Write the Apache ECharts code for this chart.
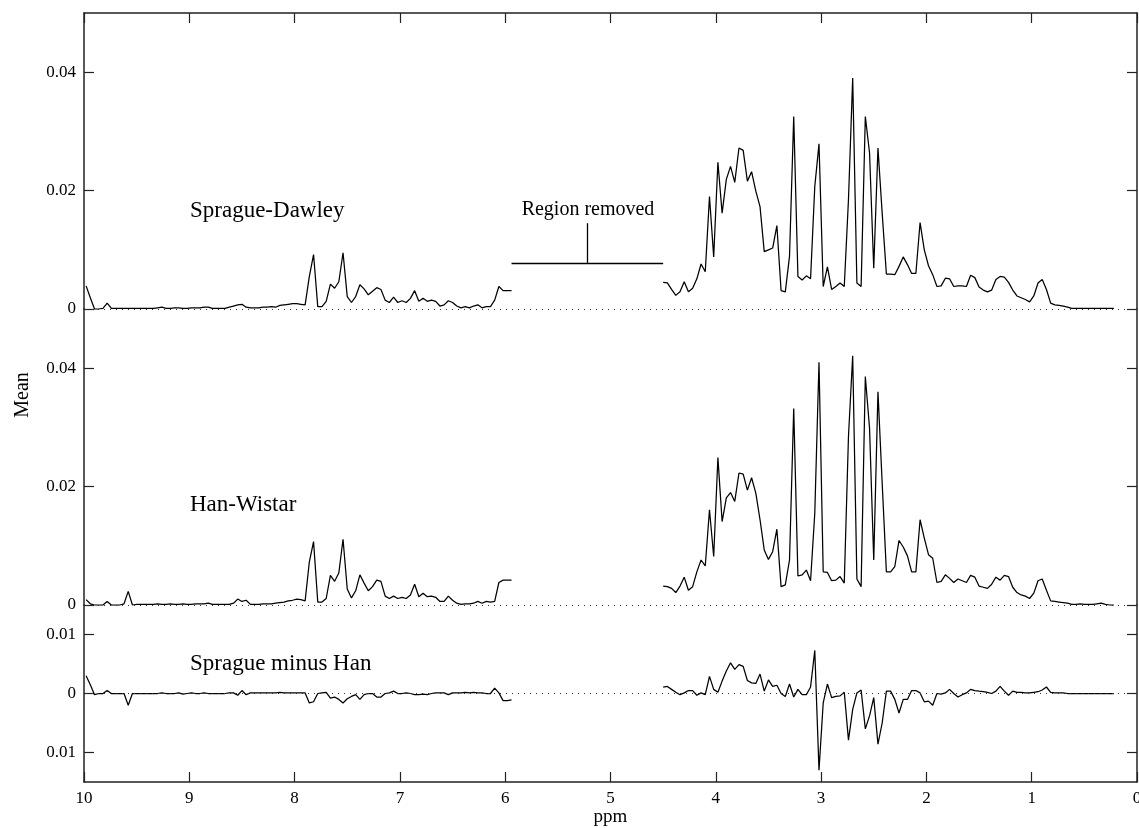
<!DOCTYPE html>
<html>
<head>
<meta charset="utf-8">
<title>Mean NMR spectra</title>
<script src="https://cdn.jsdelivr.net/npm/echarts@6/dist/echarts.min.js"></script>
<style>
  html, body { margin: 0; padding: 0; background: #fff; }
  #chart { width: 1139px; height: 828px; }
</style>
</head>
<body>
<div id="chart"></div>
<script>
// Bucket centres (ppm), 0.04 ppm buckets; the water region between the two segments is excluded
const ppmLeft = [9.98,9.94,9.90,9.86,9.82,9.78,9.74,9.70,9.66,9.62,9.58,9.54,9.50,9.46,9.42,9.38,9.34,9.30,9.26,9.22,
  9.18,9.14,9.10,9.06,9.02,8.98,8.94,8.90,8.86,8.82,8.78,8.74,8.70,8.66,8.62,8.58,8.54,8.50,8.46,8.42,
  8.38,8.34,8.30,8.26,8.22,8.18,8.14,8.10,8.06,8.02,7.98,7.94,7.90,7.86,7.82,7.78,7.74,7.70,7.66,7.62,
  7.58,7.54,7.50,7.46,7.42,7.38,7.34,7.30,7.26,7.22,7.18,7.14,7.10,7.06,7.02,6.98,6.94,6.90,6.86,6.82,
  6.78,6.74,6.70,6.66,6.62,6.58,6.54,6.50,6.46,6.42,6.38,6.34,6.30,6.26,6.22,6.18,6.14,6.10,6.06,6.02,
  5.98,5.94];
const ppmRight = [4.50,4.46,4.42,4.38,4.34,4.30,4.26,4.22,4.18,4.14,4.10,4.06,4.02,3.98,3.94,3.90,3.86,3.82,3.78,3.74,
  3.70,3.66,3.62,3.58,3.54,3.50,3.46,3.42,3.38,3.34,3.30,3.26,3.22,3.18,3.14,3.10,3.06,3.02,2.98,2.94,
  2.90,2.86,2.82,2.78,2.74,2.70,2.66,2.62,2.58,2.54,2.50,2.46,2.42,2.38,2.34,2.30,2.26,2.22,2.18,2.14,
  2.10,2.06,2.02,1.98,1.94,1.90,1.86,1.82,1.78,1.74,1.70,1.66,1.62,1.58,1.54,1.50,1.46,1.42,1.38,1.34,
  1.30,1.26,1.22,1.18,1.14,1.10,1.06,1.02,0.98,0.94,0.90,0.86,0.82,0.78,0.74,0.70,0.66,0.62,0.58,0.54,
  0.50,0.46,0.42,0.38,0.34,0.30,0.26,0.22];

// Sprague-Dawley mean spectrum
const sdLeft = [0.0039,0.0019,0.0000,0.0000,0.0001,0.0010,0.0001,0.0001,0.0001,0.0001,
  0.0001,0.0001,0.0001,0.0001,0.0001,0.0001,0.0001,0.0002,0.0003,0.0001,
  0.0001,0.0002,0.0002,0.0001,0.0001,0.0002,0.0002,0.0002,0.0003,0.0003,
  0.0001,0.0001,0.0001,0.0001,0.0003,0.0005,0.0007,0.0008,0.0003,0.0002,
  0.0002,0.0002,0.0003,0.0003,0.0004,0.0003,0.0006,0.0007,0.0008,0.0009,
  0.0009,0.0008,0.0007,0.0055,0.0092,0.0004,0.0004,0.0013,0.0042,0.0035,
  0.0046,0.0095,0.0021,0.0011,0.0021,0.0041,0.0034,0.0024,0.0030,0.0036,
  0.0033,0.0015,0.0011,0.0020,0.0011,0.0014,0.0011,0.0018,0.0031,0.0013,
  0.0018,0.0013,0.0015,0.0013,0.0005,0.0007,0.0014,0.0011,0.0005,0.0002,
  0.0004,0.0002,0.0005,0.0007,0.0002,0.0004,0.0004,0.0015,0.0038,0.0031,
  0.0031,0.0031];
const sdRight = [0.0045,0.0044,0.0033,0.0023,0.0029,0.0046,0.0029,0.0035,0.0051,0.0076,
  0.0063,0.0190,0.0088,0.0248,0.0162,0.0219,0.0241,0.0214,0.0272,0.0268,
  0.0216,0.0232,0.0199,0.0173,0.0097,0.0100,0.0103,0.0141,0.0031,0.0029,
  0.0089,0.0325,0.0055,0.0049,0.0056,0.0051,0.0207,0.0279,0.0038,0.0071,
  0.0033,0.0038,0.0044,0.0038,0.0185,0.0390,0.0044,0.0038,0.0325,0.0264,
  0.0069,0.0272,0.0162,0.0059,0.0059,0.0058,0.0072,0.0088,0.0075,0.0060,
  0.0060,0.0146,0.0100,0.0073,0.0058,0.0038,0.0039,0.0052,0.0051,0.0038,
  0.0039,0.0039,0.0038,0.0057,0.0053,0.0037,0.0032,0.0029,0.0032,0.0050,
  0.0055,0.0054,0.0045,0.0032,0.0022,0.0019,0.0016,0.0012,0.0022,0.0044,
  0.0050,0.0033,0.0010,0.0007,0.0006,0.0005,0.0003,0.0001,0.0001,0.0001,
  0.0001,0.0001,0.0001,0.0001,0.0001,0.0001,0.0001,0.0001];

// Han-Wistar mean spectrum
const hwLeft = [0.0009,0.0002,0.0000,0.0000,0.0000,0.0006,0.0000,0.0000,0.0000,0.0002,
  0.0023,0.0000,0.0001,0.0001,0.0001,0.0001,0.0001,0.0002,0.0001,0.0001,
  0.0002,0.0001,0.0001,0.0002,0.0001,0.0001,0.0002,0.0002,0.0002,0.0003,
  0.0001,0.0001,0.0001,0.0001,0.0001,0.0003,0.0010,0.0006,0.0008,0.0001,
  0.0001,0.0001,0.0002,0.0002,0.0002,0.0003,0.0004,0.0005,0.0007,0.0008,
  0.0010,0.0009,0.0007,0.0073,0.0107,0.0005,0.0005,0.0011,0.0050,0.0040,
  0.0054,0.0111,0.0027,0.0012,0.0024,0.0051,0.0037,0.0024,0.0031,0.0042,
  0.0040,0.0015,0.0011,0.0015,0.0011,0.0013,0.0011,0.0017,0.0035,0.0014,
  0.0020,0.0014,0.0015,0.0013,0.0006,0.0006,0.0015,0.0008,0.0003,0.0001,
  0.0002,0.0002,0.0003,0.0006,0.0003,0.0006,0.0005,0.0006,0.0038,0.0042,
  0.0042,0.0042];
const hwRight = [0.0032,0.0031,0.0028,0.0021,0.0032,0.0047,0.0025,0.0031,0.0056,0.0076,
  0.0066,0.0161,0.0082,0.0249,0.0141,0.0181,0.0190,0.0175,0.0223,0.0221,
  0.0194,0.0215,0.0189,0.0144,0.0093,0.0077,0.0090,0.0128,0.0031,0.0034,
  0.0076,0.0332,0.0049,0.0051,0.0059,0.0041,0.0155,0.0410,0.0056,0.0055,
  0.0041,0.0042,0.0048,0.0037,0.0285,0.0421,0.0044,0.0031,0.0386,0.0299,
  0.0076,0.0360,0.0206,0.0056,0.0056,0.0065,0.0109,0.0098,0.0083,0.0056,
  0.0056,0.0144,0.0113,0.0085,0.0079,0.0038,0.0040,0.0051,0.0045,0.0038,
  0.0044,0.0041,0.0038,0.0050,0.0047,0.0032,0.0030,0.0028,0.0035,0.0047,
  0.0042,0.0050,0.0048,0.0030,0.0021,0.0017,0.0015,0.0011,0.0020,0.0041,
  0.0044,0.0025,0.0007,0.0006,0.0005,0.0004,0.0003,0.0001,0.0001,0.0002,
  0.0001,0.0001,0.0001,0.0002,0.0003,0.0001,0.0000,0.0000];

// Difference spectrum (Sprague minus Han)
const diffLeft = [0.0030,0.0015,-0.0002,0.0000,0.0000,0.0005,0.0000,0.0000,0.0000,0.0000,
  -0.0020,0.0000,0.0000,0.0000,0.0000,0.0000,0.0000,0.0000,0.0001,0.0000,
  0.0000,0.0000,0.0001,-0.0001,0.0000,0.0001,0.0000,0.0000,0.0001,0.0000,
  0.0000,0.0000,0.0000,0.0000,0.0001,0.0001,-0.0003,0.0005,-0.0002,0.0001,
  0.0001,0.0001,0.0001,0.0001,0.0001,0.0001,0.0002,0.0001,0.0001,0.0001,
  0.0001,0.0001,0.0001,-0.0016,-0.0014,0.0000,0.0001,0.0002,-0.0008,-0.0006,
  -0.0010,-0.0016,-0.0009,-0.0005,-0.0002,-0.0010,-0.0002,0.0000,0.0000,-0.0006,
  -0.0006,0.0000,0.0001,0.0004,0.0000,0.0000,0.0001,0.0000,-0.0002,-0.0002,
  -0.0001,-0.0002,0.0000,0.0001,0.0001,0.0001,-0.0002,0.0001,0.0001,0.0001,
  0.0002,0.0001,0.0002,0.0001,0.0001,0.0000,0.0000,0.0009,0.0001,-0.0012,
  -0.0012,-0.0011];
const diffRight = [0.0011,0.0012,0.0007,0.0002,-0.0002,0.0001,0.0005,0.0005,-0.0003,0.0001,
  -0.0002,0.0029,0.0007,0.0002,0.0021,0.0038,0.0052,0.0041,0.0049,0.0046,
  0.0022,0.0018,0.0017,0.0033,0.0004,0.0023,0.0012,0.0014,0.0000,-0.0005,
  0.0016,-0.0006,0.0007,-0.0002,-0.0002,0.0011,0.0073,-0.0130,-0.0016,0.0016,
  -0.0007,-0.0005,-0.0004,0.0002,-0.0079,-0.0027,0.0001,0.0006,-0.0060,-0.0038,
  -0.0007,-0.0086,-0.0050,0.0004,0.0004,-0.0010,-0.0033,-0.0010,-0.0010,0.0005,
  0.0005,0.0001,-0.0014,-0.0013,-0.0020,0.0000,-0.0001,0.0001,0.0007,0.0000,
  -0.0006,-0.0002,0.0001,0.0007,0.0005,0.0004,0.0003,0.0002,0.0000,0.0004,
  0.0012,0.0004,-0.0003,0.0004,0.0002,0.0002,0.0001,0.0001,0.0002,0.0003,
  0.0006,0.0011,0.0002,0.0001,0.0001,0.0001,0.0000,0.0000,0.0000,0.0000,
  0.0000,0.0000,0.0000,0.0000,0.0000,0.0000,0.0000,0.0000];

// Axis ticks
const ppmTicks = [10, 9, 8, 7, 6, 5, 4, 3, 2, 1, 0];
const meanTicks = [0, 0.02, 0.04];
const diffTicks = [-0.01, 0, 0.01];

// "Region removed" bracket heights (Mean units, top panel)
const bracketLevel = 0.0078;
const bracketTop = 0.0145;

const FONT = '"Liberation Serif", "Times New Roman", serif';
const AXIS_COLOR = '#222';

function pairs(xs, ys) { return xs.map((x, i) => [x, ys[i]]); }

function xAxisFor(gridIndex, position, showLabels) {
  return {
    type: 'value', gridIndex, position, min: 0, max: 10, interval: 1, inverse: true,
    axisLine: { show: true, onZero: false, lineStyle: { color: AXIS_COLOR, width: 1.5 } },
    axisTick: { show: true, inside: true, length: 10, customValues: ppmTicks, lineStyle: { color: AXIS_COLOR, width: 1.2 } },
    axisLabel: {
      show: showLabels, customValues: ppmTicks, margin: 8,
      fontFamily: FONT, fontSize: 17, color: '#000',
      formatter: v => String(v)
    },
    splitLine: { show: false },
    name: showLabels ? 'ppm' : '',
    nameLocation: 'middle', nameGap: 20,
    nameTextStyle: { fontFamily: FONT, fontSize: 19, color: '#000' }
  };
}

function yAxisFor(gridIndex, min, max, ticks, side, fmt) {
  return {
    type: 'value', gridIndex, min, max, position: side,
    axisLine: { show: true, onZero: false, lineStyle: { color: AXIS_COLOR, width: 1.5 } },
    axisTick: { show: true, inside: true, length: 10, customValues: ticks, lineStyle: { color: AXIS_COLOR, width: 1.2 } },
    axisLabel: {
      show: side === 'left', customValues: ticks, margin: 8,
      fontFamily: FONT, fontSize: 17, color: '#000', formatter: fmt
    },
    splitLine: { show: false }
  };
}

const meanFmt = v => (Math.abs(v) < 1e-9 ? '0' : v.toFixed(2));
const diffFmt = v => (Math.abs(v) < 1e-9 ? '0' : Math.abs(v).toFixed(2));

const zeroLine = {
  silent: true, symbol: 'none', label: { show: false },
  lineStyle: { type: [1, 5], color: '#333', width: 1 },
  data: [{ yAxis: 0 }]
};

function line(xIdx, yIdx, data, extra) {
  return Object.assign({
    type: 'line', xAxisIndex: xIdx, yAxisIndex: yIdx, data,
    showSymbol: false, symbol: 'none', smooth: false,
    lineStyle: { color: '#000', width: 1.25 }, animation: false, silent: true
  }, extra || {});
}

const gapStart = ppmLeft[ppmLeft.length - 1];
const gapEnd = ppmRight[0];
const gapMid = (gapStart + gapEnd) / 2;

const gridBase = { left: 84, right: 2, containLabel: false, outerBoundsMode: 'none' };

const option = {
  backgroundColor: '#fff',
  animation: false,
  grid: [
    Object.assign({ top: 13, height: 296 }, gridBase),
    Object.assign({ top: 309, height: 296 }, gridBase),
    Object.assign({ top: 605, height: 177 }, gridBase)
  ],
  xAxis: [
    xAxisFor(0, 'top', false),
    Object.assign(xAxisFor(1, 'bottom', false), { show: false }),
    xAxisFor(2, 'bottom', true)
  ],
  yAxis: [
    yAxisFor(0, 0, 0.05, meanTicks, 'left', meanFmt),
    yAxisFor(0, 0, 0.05, meanTicks, 'right', meanFmt),
    yAxisFor(1, 0, 0.05, meanTicks, 'left', meanFmt),
    yAxisFor(1, 0, 0.05, meanTicks, 'right', meanFmt),
    yAxisFor(2, -0.015, 0.015, diffTicks, 'left', diffFmt),
    yAxisFor(2, -0.015, 0.015, diffTicks, 'right', diffFmt)
  ],
  series: [
    line(0, 0, pairs(ppmLeft, sdLeft), {
      markLine: {
        silent: true, symbol: 'none', label: { show: false },
        lineStyle: { type: 'solid', color: '#000', width: 1.3 },
        data: [
          [{ coord: [gapStart, bracketLevel] }, { coord: [gapEnd, bracketLevel] }],
          [{ coord: [gapMid, bracketLevel] }, { coord: [gapMid, bracketTop] }]
        ]
      }
    }),
    line(0, 0, pairs(ppmRight, sdRight), { markLine: zeroLine }),
    line(1, 2, pairs(ppmLeft, hwLeft)),
    line(1, 2, pairs(ppmRight, hwRight), { markLine: zeroLine }),
    line(2, 4, pairs(ppmLeft, diffLeft)),
    line(2, 4, pairs(ppmRight, diffRight), { markLine: zeroLine })
  ],
  graphic: [
    { type: 'text', x: 190, y: 211, silent: true,
      style: { text: 'Sprague-Dawley', font: '23px ' + FONT, fill: '#000', verticalAlign: 'middle' } },
    { type: 'text', x: 190, y: 505, silent: true,
      style: { text: 'Han-Wistar', font: '23px ' + FONT, fill: '#000', verticalAlign: 'middle' } },
    { type: 'text', x: 190, y: 664, silent: true,
      style: { text: 'Sprague minus Han', font: '23px ' + FONT, fill: '#000', verticalAlign: 'middle' } },
    { type: 'text', x: 588, y: 210, silent: true,
      style: { text: 'Region removed', font: '20px ' + FONT, fill: '#000', align: 'center', verticalAlign: 'middle' } },
    { type: 'text', x: 23, y: 395, rotation: Math.PI / 2, silent: true,
      style: { text: 'Mean', font: '20px ' + FONT, fill: '#000', align: 'center', verticalAlign: 'middle' } }
  ]
};

const chart = echarts.init(document.getElementById('chart'), null, { renderer: 'canvas' });
chart.setOption(option);
</script>
</body>
</html>
